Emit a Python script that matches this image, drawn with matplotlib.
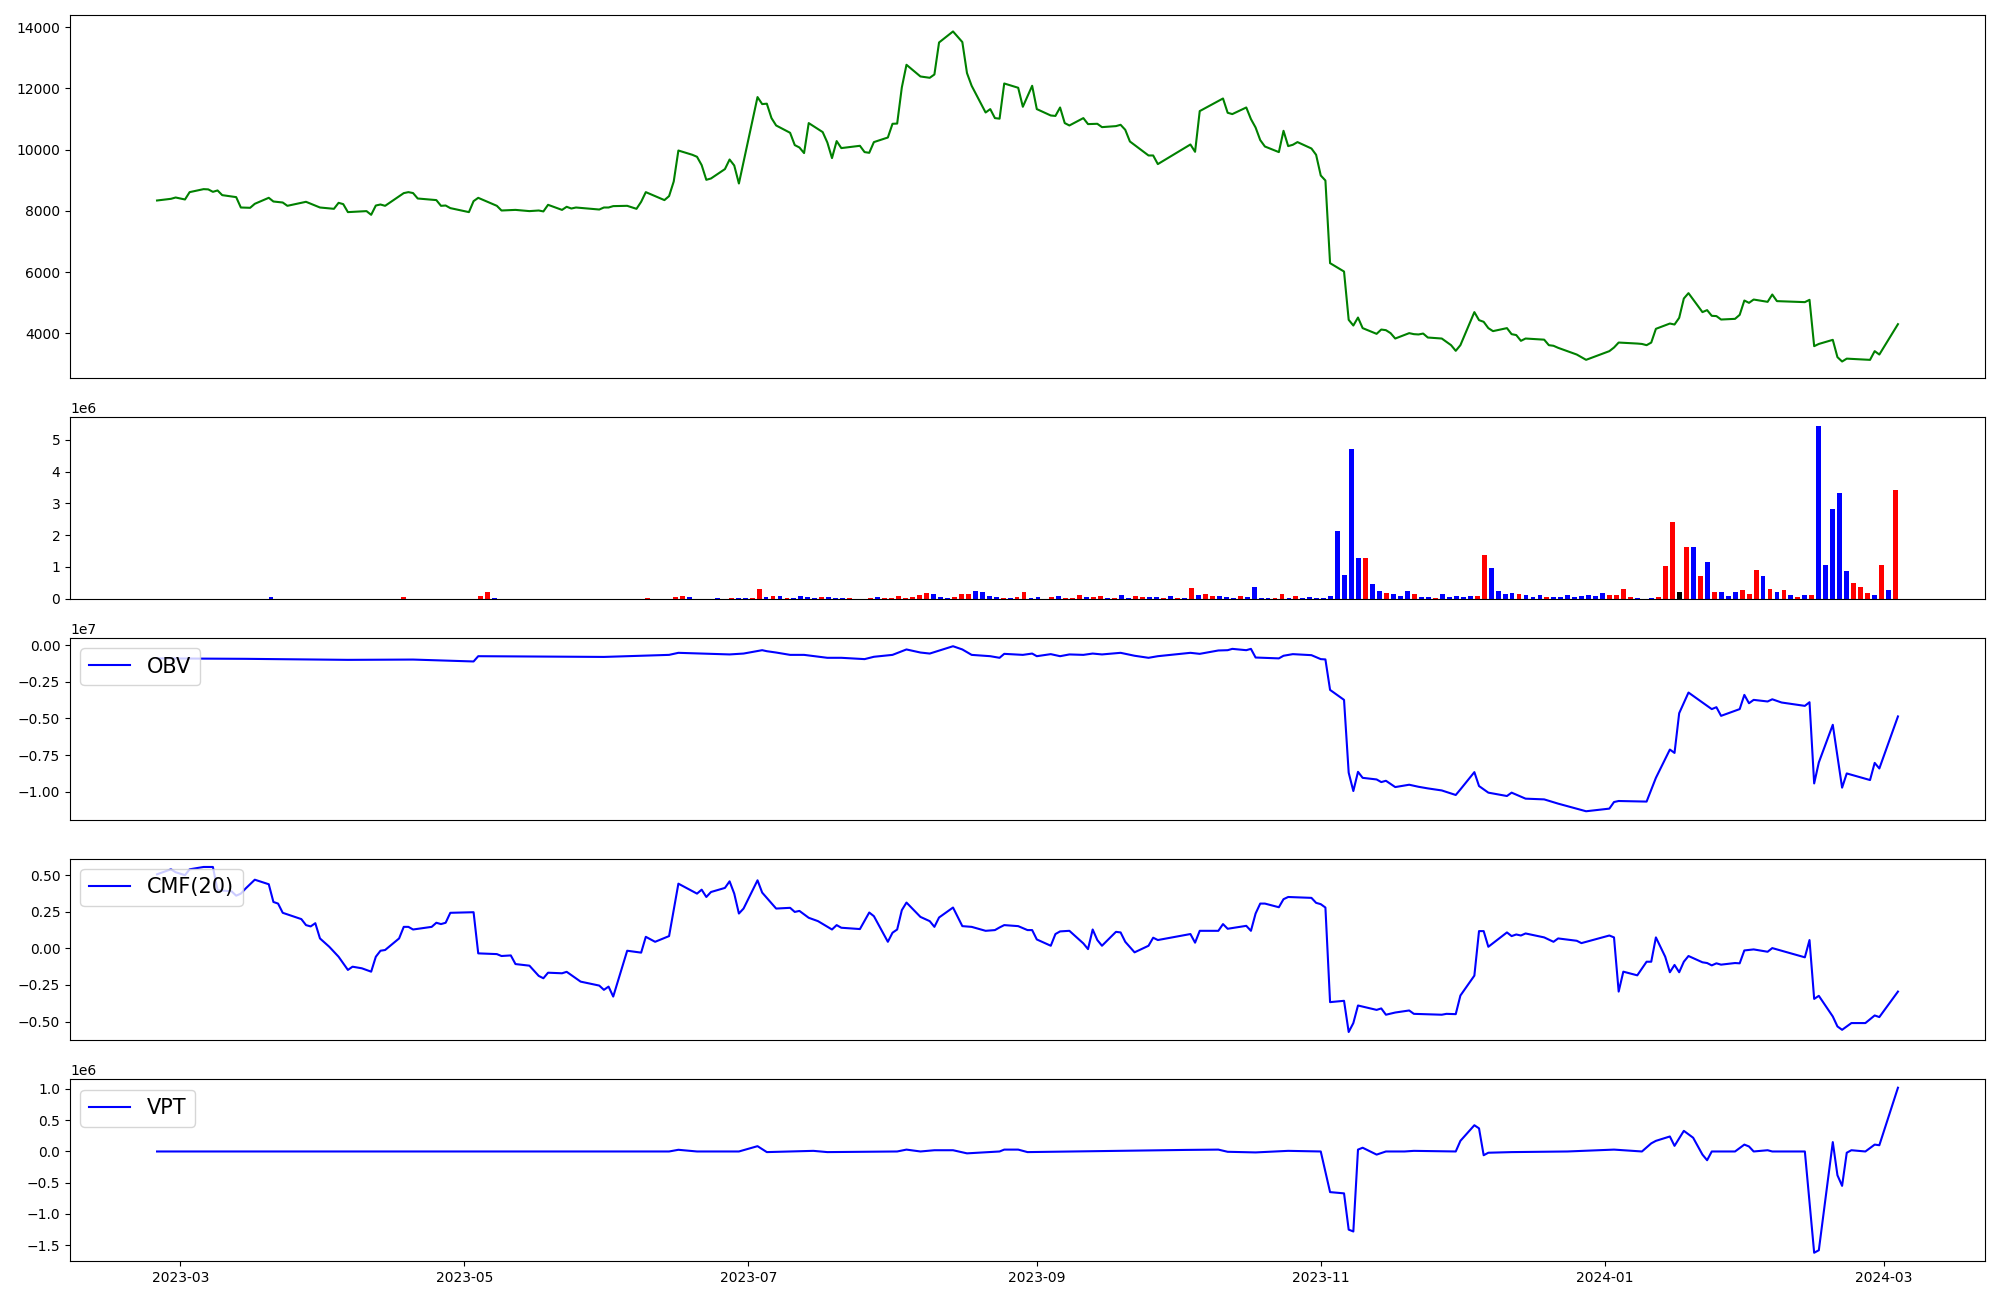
import matplotlib
matplotlib.use("Agg")
import matplotlib.pyplot as plt
import numpy as np
import pandas as pd

# ---------------- price (close) ----------------
price_dates = [
"2023-02-24","2023-02-27","2023-02-28","2023-03-02","2023-03-03","2023-03-06","2023-03-07","2023-03-08","2023-03-09","2023-03-10",
"2023-03-13","2023-03-14","2023-03-16","2023-03-17","2023-03-20","2023-03-21","2023-03-23","2023-03-24","2023-03-28","2023-03-31",
"2023-04-03","2023-04-04","2023-04-05","2023-04-06","2023-04-10","2023-04-11","2023-04-12","2023-04-13","2023-04-14","2023-04-18",
"2023-04-19","2023-04-20","2023-04-21","2023-04-25","2023-04-26","2023-04-27","2023-04-28","2023-05-02","2023-05-03","2023-05-04",
"2023-05-08","2023-05-09","2023-05-12","2023-05-15","2023-05-17","2023-05-18","2023-05-19","2023-05-22","2023-05-23","2023-05-24",
"2023-05-25","2023-05-30","2023-05-31","2023-06-01","2023-06-02","2023-06-05","2023-06-07","2023-06-08","2023-06-09","2023-06-13",
"2023-06-14","2023-06-15","2023-06-16","2023-06-19","2023-06-20","2023-06-21","2023-06-22","2023-06-23","2023-06-26","2023-06-27",
"2023-06-28","2023-06-29","2023-07-03","2023-07-04","2023-07-05","2023-07-06","2023-07-07","2023-07-10","2023-07-11","2023-07-12",
"2023-07-13","2023-07-14","2023-07-17","2023-07-18","2023-07-19","2023-07-20","2023-07-21","2023-07-25","2023-07-26","2023-07-27",
"2023-07-28","2023-07-31","2023-08-01","2023-08-02","2023-08-03","2023-08-04","2023-08-07","2023-08-09","2023-08-10","2023-08-11",
"2023-08-14","2023-08-16","2023-08-17","2023-08-18","2023-08-21","2023-08-22","2023-08-23","2023-08-24","2023-08-25","2023-08-28",
"2023-08-29","2023-08-31","2023-09-01","2023-09-04","2023-09-05","2023-09-06","2023-09-07","2023-09-08","2023-09-11","2023-09-12",
"2023-09-14","2023-09-15","2023-09-18","2023-09-19","2023-09-20","2023-09-21","2023-09-25","2023-09-26","2023-09-27","2023-10-04",
"2023-10-05","2023-10-06","2023-10-11","2023-10-12","2023-10-13","2023-10-16","2023-10-17","2023-10-18","2023-10-19","2023-10-20",
"2023-10-23","2023-10-24","2023-10-25","2023-10-26","2023-10-27","2023-10-30","2023-10-31","2023-11-01","2023-11-02","2023-11-03",
"2023-11-06","2023-11-07","2023-11-08","2023-11-09","2023-11-10","2023-11-13","2023-11-14","2023-11-15","2023-11-16","2023-11-17",
"2023-11-20","2023-11-21","2023-11-22","2023-11-23","2023-11-24","2023-11-27","2023-11-28","2023-11-29","2023-11-30","2023-12-01",
"2023-12-04","2023-12-05","2023-12-06","2023-12-07","2023-12-08","2023-12-11","2023-12-12","2023-12-13","2023-12-14","2023-12-15",
"2023-12-19","2023-12-20","2023-12-21","2023-12-22","2023-12-26","2023-12-28","2024-01-02","2024-01-03","2024-01-04","2024-01-08",
"2024-01-09","2024-01-10","2024-01-11","2024-01-12","2024-01-15","2024-01-16","2024-01-17","2024-01-18","2024-01-19","2024-01-22",
"2024-01-23","2024-01-24","2024-01-25","2024-01-26","2024-01-29","2024-01-30","2024-01-31","2024-02-01","2024-02-02","2024-02-05",
"2024-02-06","2024-02-07","2024-02-13","2024-02-14","2024-02-15","2024-02-16","2024-02-19","2024-02-20","2024-02-21","2024-02-22",
"2024-02-27","2024-02-28","2024-02-29","2024-03-04"]

price_close = [
8337, 8392, 8435, 8370, 8610, 8708, 8700, 8620, 8665, 8512,
8447, 8108, 8098, 8229, 8425, 8304, 8271, 8163, 8294, 8108,
8065, 8261, 8218, 7957, 7990, 7869, 8173, 8206, 8163, 8578,
8610, 8580, 8402, 8350, 8163, 8173, 8088, 7957, 8316, 8424,
8163, 8010, 8030, 7990, 8010, 7980, 8196, 8030, 8131, 8075,
8108, 8042, 8108, 8108, 8153, 8163, 8065, 8294, 8610, 8350,
8480, 8958, 9970, 9830, 9765, 9493, 9013, 9056, 9363, 9676,
9480, 8892, 11716, 11487, 11500, 11029, 10788, 10549, 10147, 10069,
9886, 10866, 10572, 10232, 9722, 10278, 10049, 10124, 9918, 9895,
10245, 10395, 10843, 10850, 12030, 12771, 12389, 12346, 12454, 13500,
13860, 13513, 12500, 12085, 11212, 11323, 11029, 11010, 12160, 12020,
11399, 12085, 11323, 11114, 11100, 11376, 10866, 10788, 11029, 10833,
10843, 10734, 10767, 10810, 10647, 10265, 9808, 9808, 9526, 10167,
9928, 11258, 11670, 11203, 11160, 11376, 10997, 10722, 10310, 10101,
9918, 10614, 10114, 10157, 10245, 10036, 9830, 9154, 8990, 6290,
6016, 4438, 4252, 4513, 4167, 3980, 4121, 4100, 4003, 3827,
4003, 3970, 3960, 3990, 3860, 3827, 3719, 3610, 3425, 3610,
4690, 4428, 4373, 4167, 4069, 4167, 3970, 3940, 3752, 3827,
3790, 3610, 3590, 3523, 3304, 3131, 3415, 3533, 3696, 3663,
3650, 3610, 3695, 4144, 4317, 4285, 4503, 5134, 5310, 4690,
4755, 4569, 4560, 4448, 4470, 4601, 5069, 4993, 5101, 5026,
5265, 5049, 5016, 5091, 3578, 3650, 3784, 3219, 3076, 3170,
3130, 3415, 3304, 4296]

# ---------------- volume (millions), one bar per trading day ----------------
volume_m = [
0.003,0.003,0.003,0.003,0.003,0.003,0.003,0.003,0.003,0.003,
0.003,0.003,0.003,0.003,0.003,0.003,0.04,0.003,0.003,0.003,
0.003,0.003,0.003,0.003,0.003,0.003,0.003,0.003,0.003,0.003,
0.003,0.003,0.003,0.003,0.003,0.04,0.003,0.003,0.003,0.003,
0.003,0.003,0.003,0.003,0.003,0.003,0.075,0.2,0.02,0.003,
0.003,0.003,0.003,0.003,0.003,0.003,0.003,0.003,0.003,0.003,
0.003,0.003,0.003,0.003,0.003,0.003,0.003,0.003,0.003,0.003,
0.03,0.003,0.003,0.003,0.063,0.094,0.063,0.003,0.003,0.003,
0.03,0.003,0.03,0.03,0.03,0.03,0.31,0.063,0.094,0.094,
0.03,0.03,0.094,0.063,0.03,0.063,0.063,0.03,0.03,0.03,
0.003,0.003,0.03,0.063,0.03,0.03,0.094,0.03,0.063,0.126,
0.19,0.157,0.063,0.03,0.063,0.157,0.157,0.25,0.22,0.094,
0.063,0.03,0.03,0.063,0.22,0.03,0.063,0.003,0.063,0.094,
0.03,0.03,0.126,0.063,0.063,0.094,0.03,0.03,0.126,0.03,
0.094,0.063,0.063,0.063,0.03,0.094,0.03,0.03,0.35,0.126,
0.157,0.094,0.094,0.063,0.03,0.094,0.063,0.38,0.03,0.03,
0.03,0.157,0.03,0.094,0.03,0.063,0.03,0.03,0.094,2.14,
0.75,4.70,1.29,1.29,0.47,0.25,0.19,0.157,0.094,0.25,
0.157,0.063,0.063,0.03,0.157,0.063,0.094,0.063,0.094,0.094,
1.38,0.975,0.25,0.157,0.19,0.157,0.126,0.063,0.126,0.063,
0.063,0.063,0.126,0.063,0.094,0.126,0.094,0.19,0.126,0.126,
0.31,0.063,0.03,0.003,0.03,0.063,1.04,2.42,0.22,1.64,
1.64,0.72,1.16,0.22,0.22,0.094,0.22,0.28,0.157,0.91,
0.72,0.31,0.22,0.28,0.126,0.063,0.126,0.126,5.44,1.07,
2.83,3.33,0.88,0.50,0.38,0.19,0.126,1.07,0.28,3.43]

volume_color_codes = (
"bbbbbbbbbb" "bbbbbbbbbb" "bbbbbbbbbb" "bbbbbrbbbb" "bbbbbbrrbb"
"bbbbbbbbbb" "bbbbbbbbbb" "rbbbrrbbbb" "bbrbbrrbrb" "rbbbbrbbbr"
"bbrbrrrrrr" "rbbbrrrbbb" "brbrrbbbrb" "rrrbrrbrbb" "rrbbrbrbrb"
"rrbbbrbbbb" "rrbrbbbbbb" "bbbrbbrbbb" "rbbrbbbbbr" "rbbbbrbbbr"
"bbbbbbbbrr" "rrbbbrrrkr" "brbrbbbrrr" "brbrbrbrbb" "bbbrrrbrbr")

# ---------------- OBV (x 1e7) ----------------
obv_dates = [
"2023-02-24","2023-03-15","2023-04-06","2023-04-20","2023-05-03","2023-05-04","2023-05-31","2023-06-14","2023-06-16","2023-06-27",
"2023-06-30","2023-07-04","2023-07-05","2023-07-07","2023-07-10","2023-07-13","2023-07-18","2023-07-21","2023-07-26","2023-07-28",
"2023-08-01","2023-08-04","2023-08-07","2023-08-09","2023-08-14","2023-08-16","2023-08-18","2023-08-22","2023-08-24","2023-08-25",
"2023-08-29","2023-08-31","2023-09-01","2023-09-04","2023-09-06","2023-09-08","2023-09-11","2023-09-13","2023-09-15","2023-09-19",
"2023-09-22","2023-09-25","2023-09-27","2023-10-04","2023-10-06","2023-10-10","2023-10-12","2023-10-13","2023-10-16","2023-10-17",
"2023-10-18","2023-10-23","2023-10-24","2023-10-26","2023-10-30","2023-11-01","2023-11-02","2023-11-03","2023-11-06","2023-11-07",
"2023-11-08","2023-11-09","2023-11-10","2023-11-13","2023-11-14","2023-11-15","2023-11-17","2023-11-20","2023-11-22","2023-11-24",
"2023-11-27","2023-11-30","2023-12-01","2023-12-04","2023-12-05","2023-12-07","2023-12-11","2023-12-12","2023-12-15","2023-12-19",
"2023-12-22","2023-12-28","2024-01-02","2024-01-03","2024-01-04","2024-01-10","2024-01-12","2024-01-15","2024-01-16","2024-01-17",
"2024-01-19","2024-01-22","2024-01-24","2024-01-25","2024-01-26","2024-01-30","2024-01-31","2024-02-01","2024-02-02","2024-02-05",
"2024-02-06","2024-02-08","2024-02-13","2024-02-14","2024-02-15","2024-02-16","2024-02-19","2024-02-21","2024-02-22","2024-02-27",
"2024-02-28","2024-02-29","2024-03-04"]
obv_values = [
-0.090,-0.093,-0.100,-0.098,-0.111,-0.075,-0.080,-0.066,-0.052,-0.063,
-0.057,-0.034,-0.041,-0.050,-0.066,-0.066,-0.086,-0.086,-0.095,-0.079,
-0.066,-0.029,-0.050,-0.057,-0.007,-0.029,-0.066,-0.075,-0.086,-0.059,
-0.066,-0.057,-0.075,-0.061,-0.075,-0.063,-0.066,-0.057,-0.063,-0.052,
-0.072,-0.086,-0.075,-0.052,-0.059,-0.036,-0.034,-0.025,-0.034,-0.025,
-0.084,-0.090,-0.072,-0.061,-0.068,-0.095,-0.097,-0.305,-0.373,-0.870,
-0.995,-0.864,-0.905,-0.916,-0.934,-0.925,-0.968,-0.952,-0.966,-0.977,
-0.991,-1.022,-0.984,-0.866,-0.961,-1.006,-1.029,-1.006,-1.047,-1.052,
-1.081,-1.133,-1.115,-1.070,-1.063,-1.067,-0.905,-0.712,-0.735,-0.464,
-0.323,-0.391,-0.436,-0.423,-0.482,-0.436,-0.339,-0.396,-0.373,-0.384,
-0.369,-0.391,-0.414,-0.389,-0.943,-0.800,-0.543,-0.972,-0.875,-0.920,
-0.803,-0.841,-0.486]

# ---------------- CMF(20) ----------------
cmf_dates = [
"2023-02-24","2023-02-27","2023-02-28","2023-03-02","2023-03-03","2023-03-06","2023-03-08","2023-03-09","2023-03-12","2023-03-13",
"2023-03-14","2023-03-15","2023-03-17","2023-03-20","2023-03-21","2023-03-22","2023-03-23","2023-03-27","2023-03-28","2023-03-29",
"2023-03-30","2023-03-31","2023-04-02","2023-04-04","2023-04-06","2023-04-07","2023-04-09","2023-04-11","2023-04-12","2023-04-13",
"2023-04-14","2023-04-17","2023-04-18","2023-04-19","2023-04-20","2023-04-24","2023-04-25","2023-04-26","2023-04-27","2023-04-28",
"2023-05-03","2023-05-04","2023-05-08","2023-05-09","2023-05-11","2023-05-12","2023-05-15","2023-05-17","2023-05-18","2023-05-19",
"2023-05-22","2023-05-23","2023-05-26","2023-05-30","2023-05-31","2023-06-01","2023-06-02","2023-06-05","2023-06-08","2023-06-09",
"2023-06-11","2023-06-14","2023-06-16","2023-06-20","2023-06-21","2023-06-22","2023-06-23","2023-06-26","2023-06-27","2023-06-28",
"2023-06-29","2023-06-30","2023-07-03","2023-07-04","2023-07-07","2023-07-10","2023-07-11","2023-07-12","2023-07-14","2023-07-16",
"2023-07-19","2023-07-20","2023-07-21","2023-07-25","2023-07-27","2023-07-28","2023-07-31","2023-08-01","2023-08-02","2023-08-03",
"2023-08-04","2023-08-07","2023-08-09","2023-08-10","2023-08-11","2023-08-14","2023-08-16","2023-08-18","2023-08-21","2023-08-23",
"2023-08-24","2023-08-25","2023-08-28","2023-08-30","2023-08-31","2023-09-01","2023-09-04","2023-09-05","2023-09-06","2023-09-08",
"2023-09-11","2023-09-12","2023-09-13","2023-09-14","2023-09-15","2023-09-18","2023-09-19","2023-09-20","2023-09-22","2023-09-25",
"2023-09-26","2023-09-27","2023-10-04","2023-10-05","2023-10-06","2023-10-10","2023-10-11","2023-10-12","2023-10-16","2023-10-17",
"2023-10-18","2023-10-19","2023-10-20","2023-10-23","2023-10-24","2023-10-25","2023-10-30","2023-10-31","2023-11-01","2023-11-02",
"2023-11-03","2023-11-06","2023-11-07","2023-11-08","2023-11-09","2023-11-13","2023-11-14","2023-11-15","2023-11-17","2023-11-20",
"2023-11-21","2023-11-27","2023-11-28","2023-11-30","2023-12-01","2023-12-04","2023-12-05","2023-12-06","2023-12-07","2023-12-11",
"2023-12-12","2023-12-13","2023-12-14","2023-12-15","2023-12-19","2023-12-21","2023-12-22","2023-12-26","2023-12-27","2024-01-02",
"2024-01-03","2024-01-04","2024-01-05","2024-01-08","2024-01-10","2024-01-11","2024-01-12","2024-01-14","2024-01-15","2024-01-16",
"2024-01-17","2024-01-18","2024-01-19","2024-01-22","2024-01-23","2024-01-24","2024-01-25","2024-01-26","2024-01-29","2024-01-30",
"2024-01-31","2024-02-02","2024-02-05","2024-02-06","2024-02-13","2024-02-14","2024-02-15","2024-02-16","2024-02-19","2024-02-20",
"2024-02-21","2024-02-23","2024-02-26","2024-02-28","2024-02-29","2024-03-04"]
cmf_values = [
0.506,0.540,0.520,0.500,0.540,0.556,0.556,0.397,0.390,0.360,
0.374,0.408,0.469,0.438,0.317,0.306,0.243,0.200,0.159,0.150,
0.172,0.068,0.011,-0.057,-0.147,-0.125,-0.136,-0.159,-0.057,-0.016,
-0.011,0.068,0.147,0.147,0.129,0.147,0.175,0.166,0.175,0.243,
0.247,-0.034,-0.039,-0.052,-0.048,-0.107,-0.118,-0.188,-0.204,-0.166,
-0.170,-0.160,-0.227,-0.254,-0.283,-0.261,-0.329,-0.016,-0.029,0.079,
0.045,0.084,0.442,0.374,0.401,0.351,0.385,0.413,0.458,0.374,
0.238,0.272,0.465,0.381,0.272,0.277,0.249,0.256,0.209,0.186,
0.129,0.159,0.141,0.132,0.245,0.220,0.045,0.107,0.129,0.261,
0.313,0.215,0.186,0.147,0.211,0.279,0.152,0.147,0.120,0.125,
0.143,0.159,0.152,0.125,0.125,0.061,0.018,0.098,0.116,0.120,
0.034,-0.005,0.129,0.057,0.018,0.113,0.109,0.045,-0.027,0.018,
0.073,0.057,0.098,0.039,0.120,0.120,0.166,0.134,0.154,0.120,
0.238,0.306,0.306,0.281,0.336,0.351,0.345,0.311,0.302,0.279,
-0.367,-0.358,-0.571,-0.510,-0.390,-0.420,-0.410,-0.453,-0.438,-0.424,
-0.447,-0.453,-0.447,-0.449,-0.322,-0.186,0.118,0.118,0.011,0.109,
0.084,0.095,0.088,0.102,0.075,0.045,0.068,0.052,0.036,0.088,
0.075,-0.295,-0.159,-0.184,-0.091,-0.091,0.075,-0.057,-0.163,-0.113,
-0.163,-0.091,-0.052,-0.095,-0.100,-0.116,-0.102,-0.111,-0.100,-0.102,
-0.014,-0.007,-0.023,0.002,-0.061,0.057,-0.345,-0.324,-0.465,-0.533,
-0.556,-0.510,-0.510,-0.458,-0.469,-0.295]

# ---------------- VPT (x 1e6) ----------------
vpt_dates = [
"2023-02-24","2023-06-14","2023-06-16","2023-06-20","2023-06-29","2023-07-03","2023-07-05","2023-07-15","2023-07-18","2023-08-02",
"2023-08-04","2023-08-07","2023-08-10","2023-08-14","2023-08-17","2023-08-24","2023-08-25","2023-08-28","2023-08-30","2023-10-03",
"2023-10-10","2023-10-12","2023-10-18","2023-10-25","2023-11-01","2023-11-03","2023-11-06","2023-11-07","2023-11-08","2023-11-09",
"2023-11-10","2023-11-13","2023-11-15","2023-11-19","2023-11-21","2023-11-30","2023-12-01","2023-12-04","2023-12-05","2023-12-06",
"2023-12-07","2023-12-12","2023-12-24","2024-01-03","2024-01-09","2024-01-11","2024-01-12","2024-01-15","2024-01-16","2024-01-18",
"2024-01-20","2024-01-22","2024-01-23","2024-01-24","2024-01-29","2024-01-31","2024-02-01","2024-02-02","2024-02-05","2024-02-06",
"2024-02-13","2024-02-15","2024-02-16","2024-02-19","2024-02-20","2024-02-21","2024-02-22","2024-02-23","2024-02-26","2024-02-28",
"2024-02-29","2024-03-04"]
vpt_values = [
0.0,0.0,0.027,0.0,0.0,0.085,-0.01,0.01,-0.01,0.0,
0.03,0.0,0.02,0.02,-0.03,0.0,0.03,0.03,-0.01,0.025,
0.03,-0.005,-0.015,0.01,0.0,-0.65,-0.67,-1.25,-1.28,0.03,
0.06,-0.05,0.0,0.0,0.01,0.0,0.17,0.42,0.37,-0.06,
-0.02,-0.01,0.0,0.03,0.0,0.13,0.17,0.24,0.09,0.33,
0.22,-0.05,-0.14,0.0,0.0,0.11,0.08,0.0,0.02,0.0,
0.0,-1.62,-1.58,0.15,-0.38,-0.55,-0.02,0.02,0.0,0.11,
0.10,1.02]

# ---------------- figure ----------------
color_map = {"r": "red", "b": "blue", "k": "black"}

fig = plt.figure(figsize=(20, 13), dpi=100)
gs = fig.add_gridspec(5, 1, height_ratios=[2, 1, 1, 1, 1],
                      left=0.035, right=0.9925, top=0.9885, bottom=0.030,
                      hspace=0.18)
ax1 = fig.add_subplot(gs[0])
ax2 = fig.add_subplot(gs[1])
ax3 = fig.add_subplot(gs[2], sharex=ax1)
ax4 = fig.add_subplot(gs[3], sharex=ax1)
ax5 = fig.add_subplot(gs[4], sharex=ax1)

ax1.plot(pd.to_datetime(price_dates), price_close, color="green", linewidth=1.5)
ax1.tick_params(axis="x", bottom=False, labelbottom=False)

idx = np.arange(len(volume_m))
ax2.bar(idx, np.array(volume_m) * 1e6, width=0.7,
        color=[color_map[c] for c in volume_color_codes])
ax2.set_xticks([])

ax3.plot(pd.to_datetime(obv_dates), np.array(obv_values) * 1e7, color="blue", linewidth=1.5, label="OBV")
ax3.legend(loc="upper left", fontsize=15)
ax3.tick_params(axis="x", bottom=False, labelbottom=False)

ax4.plot(pd.to_datetime(cmf_dates), cmf_values, color="blue", linewidth=1.5, label="CMF(20)")
ax4.legend(loc="upper left", fontsize=15)
ax4.tick_params(axis="x", bottom=False, labelbottom=False)

ax5.plot(pd.to_datetime(vpt_dates), np.array(vpt_values) * 1e6, color="blue", linewidth=1.5, label="VPT")
ax5.legend(loc="upper left", fontsize=15)

fig.savefig("out.png", dpi=100)
